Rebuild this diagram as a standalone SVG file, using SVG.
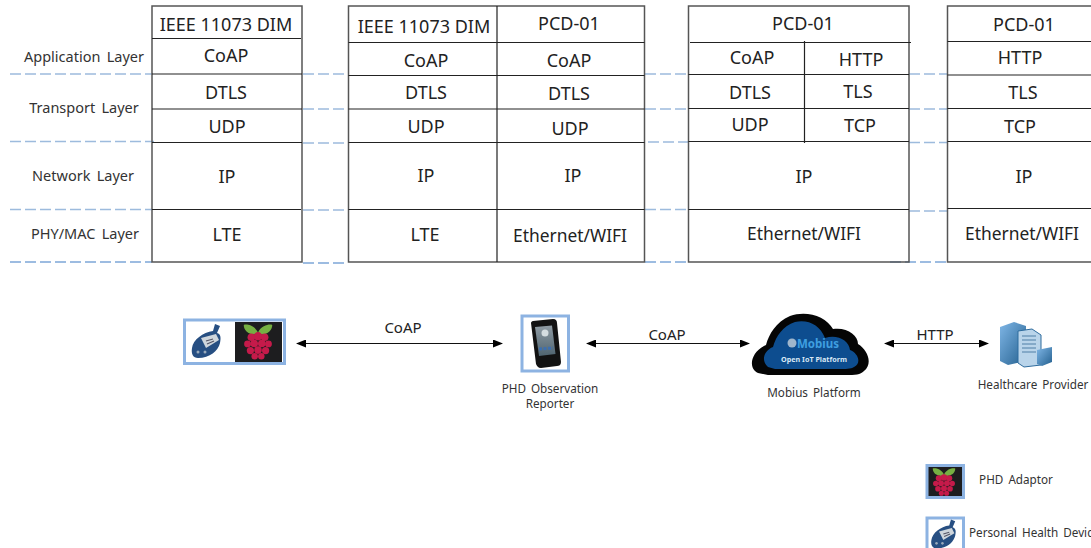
<svg xmlns="http://www.w3.org/2000/svg" width="1091" height="548" viewBox="0 0 1091 548">
<style>
text{font-family:"Noto Sans","Open Sans","Liberation Sans",sans-serif;fill:#222;text-anchor:middle}
.c{font-size:18px}
.e{font-size:17.400px}
.l{font-size:14.500px;fill:#333;word-spacing:2.500px}
.s{font-size:11.700px;fill:#333;word-spacing:2px}
.m{font-size:15px;fill:#222}
.b{fill:none;stroke:#555;stroke-width:1.5}
.g{stroke:#222;stroke-width:1.2;fill:none}
.d{stroke:#9dbbdd;stroke-width:1.5;stroke-dasharray:11 4;fill:none}
.a{stroke:#111;stroke-width:1;fill:none;marker-start:url(#h1);marker-end:url(#h2)}
.f{stroke:#8db3e2;stroke-width:3}
</style>
<defs>
<marker id="h2" markerUnits="userSpaceOnUse" markerWidth="10" markerHeight="8" refX="9" refY="4" orient="auto"><path d="M0 0L10 4L0 8z" fill="#000"/></marker>
<marker id="h1" markerUnits="userSpaceOnUse" markerWidth="10" markerHeight="8" refX="1" refY="4" orient="auto"><path d="M10 0L0 4L10 8z" fill="#000"/></marker>
<linearGradient id="srv" x1="0" y1="0" x2="1" y2="1"><stop offset="0" stop-color="#7fb6e6"/><stop offset="1" stop-color="#24608f"/></linearGradient>
<linearGradient id="scr" x1="0" y1="0" x2="0" y2="1"><stop offset="0" stop-color="#8f9ba3"/><stop offset="1" stop-color="#4f6470"/></linearGradient>
<g id="berry">
<path d="M0 -10C-4 -18 -12 -19 -15 -18C-15 -13 -11 -8 -3 -8ZM0 -10C4 -18 12 -19 15 -18C15 -13 11 -8 3 -8Z" fill="#76b043"/>
<g fill="#c51a4a"><circle cx="0" cy="-6" r="4.400"/><circle cx="-7" cy="-5" r="4"/><circle cx="7" cy="-5" r="4"/><circle cx="-11" cy="2" r="3.600"/><circle cx="-4" cy="1.500" r="4"/><circle cx="4" cy="1.500" r="4"/><circle cx="11" cy="2" r="3.600"/><circle cx="-8" cy="9" r="3.800"/><circle cx="0" cy="8.500" r="4"/><circle cx="8" cy="9" r="3.800"/><circle cx="-3.500" cy="15" r="3.400"/><circle cx="3.500" cy="15" r="3.400"/></g>
</g>
<g id="meter">
<path d="M7 -17L12 -15L9 -8C13 -7 13 -3 12 2C10 10 2 17 -10 17C-15 17 -17 13 -16 7C-15 -1 -5 -9 5 -10Z" fill="#274f82"/>
<path d="M-7 -3L8 -7L11 -1L-2 7Z" fill="#cfd6dc"/>
<path d="M-2 0L5 -2M-1 3L6 0" stroke="#556" stroke-width="1.200"/>
<circle cx="-10" cy="11" r="1.500" fill="#9ab"/><circle cx="-3" cy="11" r="1.500" fill="#9ab"/>
</g>
</defs>

<g id="connectors">
<path class="d" d="M10 74H152M303 74H348M645 74H688M909 74H947"/>
<path class="d" d="M303 109H348M645 109H688M909 109H947"/>
<path class="d" d="M10 141.500H154M303 143H348M648 142H688M909 142.500H947"/>
<path class="d" d="M10 209.500H152M303 210H348M645 209.500H688M909 211H947"/>
<path class="d" style="stroke:#7ea6d8" d="M10 262H152M303 263H348M645 262H688M890 262H947"/>
<line class="a" x1="297" y1="343.500" x2="502" y2="343.500"/>
<line class="a" x1="587" y1="343.500" x2="749" y2="343.500"/>
<line class="a" x1="885" y1="343.500" x2="988" y2="343.500"/>
<text class="m" x="403" y="333">CoAP</text>
<text class="m" x="667" y="340">CoAP</text>
<text class="m" x="935" y="340">HTTP</text>
</g>

<g id="layer-labels">
<text class="l" x="84" y="62">Application Layer</text>
<text class="l" x="84" y="113">Transport Layer</text>
<text class="l" x="83" y="181">Network Layer</text>
<text class="l" x="85" y="239">PHY/MAC Layer</text>
</g>

<g id="stack-1">
<rect class="b" x="152" y="6" width="150" height="256"/>
<path class="g" d="M152 38.500H301M152 74H302M152 109H302M152 142.500H302M152 209.500H301"/>
<text class="c" x="226" y="31">IEEE 11073 DIM</text>
<text class="c" x="226" y="62">CoAP</text>
<text class="c" x="226" y="99">DTLS</text>
<text class="c" x="227" y="133">UDP</text>
<text class="c" x="227" y="183">IP</text>
<text class="c" x="227" y="241">LTE</text>
</g>

<g id="stack-2">
<rect class="b" x="348.500" y="6" width="296" height="256"/>
<path class="g" d="M497 6V262M348.500 42.500H644.500M348.500 75.500H644.500M348.500 109H644.500M348.500 142.500H644.500M348.500 209.500H644.500"/>
<text class="c" x="424" y="33">IEEE 11073 DIM</text>
<text class="c" x="569" y="30">PCD-01</text>
<text class="c" x="426" y="67">CoAP</text>
<text class="c" x="569" y="67">CoAP</text>
<text class="c" x="426" y="99">DTLS</text>
<text class="c" x="569" y="100">DTLS</text>
<text class="c" x="426" y="133">UDP</text>
<text class="c" x="570" y="135">UDP</text>
<text class="c" x="426" y="182">IP</text>
<text class="c" x="573" y="182">IP</text>
<text class="c" x="425" y="241">LTE</text>
<text class="c e" x="570" y="242">Ethernet/WIFI</text>
</g>

<g id="stack-3">
<rect class="b" x="688.500" y="6" width="220.500" height="256"/>
<path class="g" d="M690 42.500H911M804.500 41V143M688.500 74.500H909M688.500 108.500H909M688.500 141.500H909M688.500 209.500H909"/>
<text class="c" x="803" y="30">PCD-01</text>
<text class="c" x="752" y="64">CoAP</text>
<text class="c" x="861" y="66">HTTP</text>
<text class="c" x="750" y="99">DTLS</text>
<text class="c" x="858" y="98">TLS</text>
<text class="c" x="750" y="131">UDP</text>
<text class="c" x="860" y="132">TCP</text>
<text class="c" x="804" y="183">IP</text>
<text class="c e" x="804" y="240">Ethernet/WIFI</text>
</g>

<g id="stack-4">
<path class="b" d="M1092 6H947.500V262H1092"/>
<path class="g" d="M947.500 41.500H1091M947.500 75H1091M947.500 108.500H1091M947.500 141.500H1091M947.500 208.500H1091"/>
<text class="c" x="1024" y="31">PCD-01</text>
<text class="c" x="1020" y="64">HTTP</text>
<text class="c" x="1023" y="99">TLS</text>
<text class="c" x="1020" y="133">TCP</text>
<text class="c" x="1024" y="183">IP</text>
<text class="c e" x="1022" y="240">Ethernet/WIFI</text>
</g>

<g id="phd-pair">
<rect x="184.500" y="320" width="100" height="43.500" fill="#fff" class="f"/>
<rect x="235" y="322" width="47" height="40" fill="#1d1d1f"/>
<use href="#berry" transform="translate(258 342) scale(.95)"/>
<use href="#meter" transform="translate(208 341)"/>
</g>

<g id="observation-reporter">
<rect x="522" y="316" width="46.500" height="55" fill="#fff" class="f"/>
<path d="M533 321L553 319C556 319 557 321 557 323L561 362C561 365 559 366 557 366L541 368C538 368 537 366 536 364L531 323C531 322 532 321 533 321Z" fill="#121212"/>
<path d="M535 327L552 325.500L555.500 354L539 356Z" fill="url(#scr)"/>
<circle cx="545" cy="333" r="3.500" fill="#d5dde0"/>
<path d="M539 349L553 348" stroke="#3c6fb0" stroke-width="3" stroke-dasharray="3 1.500"/>
<text class="s" x="550" y="393">PHD Observation</text>
<text class="s" x="550" y="408">Reporter</text>
</g>

<g id="mobius">
<path d="M758 373C748 369 750 352 766 345C769 334 776 322 790 316C806 310 826 316 833 329C847 327 858 335 858 344C868 350 873 364 864 371C860 375 856 375 845 375H768Z" fill="#050505"/>
<path d="M768 367C760 360 765 350 773 347C776 336 783 326 795 322C808 319 820 325 825 338C838 334 849 341 850 350C858 353 862 363 854 367C851 369 845 369 840 369H775Z" fill="#0d4d8f"/>
<circle cx="792" cy="343" r="4.500" fill="#9fb6cc"/>
<text x="818" y="348" style="font-size:11.500px;font-weight:700;fill:#3f9fe0">Mobius</text>
<text x="814" y="362" style="font-size:7.200px;font-weight:700;fill:#d8e8f5">Open IoT Platform</text>
<text class="s" x="814" y="397">Mobius Platform</text>
</g>

<g id="healthcare-provider">
<path d="M1000 327L1014 322L1026 326V361L1008 365L1000 361Z" fill="url(#srv)"/>
<path d="M1018 331L1032 329L1041 335V365L1024 367L1018 363Z" fill="#b9d4ea" stroke="#2f6c9e" stroke-width="1"/>
<path d="M1022 336H1036M1022 340H1036M1022 344H1036M1022 348H1036M1022 352H1036" stroke="#4f7fa6" stroke-width="1"/>
<path d="M1037 350L1052 347V362L1042 366L1037 364Z" fill="url(#srv)"/>
<text class="s" x="1033" y="389">Healthcare Provider</text>
</g>

<g id="legend-adaptor">
<rect x="927" y="465.500" width="36.500" height="32" fill="#1d1d1f" class="f"/>
<use href="#berry" transform="translate(944 482) scale(.75)"/>
<text class="s" x="1016" y="484">PHD Adaptor</text>
</g>

<g id="legend-device">
<rect x="927" y="518" width="36.500" height="32" fill="#fff" class="f"/>
<use href="#meter" transform="translate(945 534) scale(.85)"/>
<text class="s" x="969" y="537" style="text-anchor:start">Personal Health Devic</text>
</g>
</svg>
